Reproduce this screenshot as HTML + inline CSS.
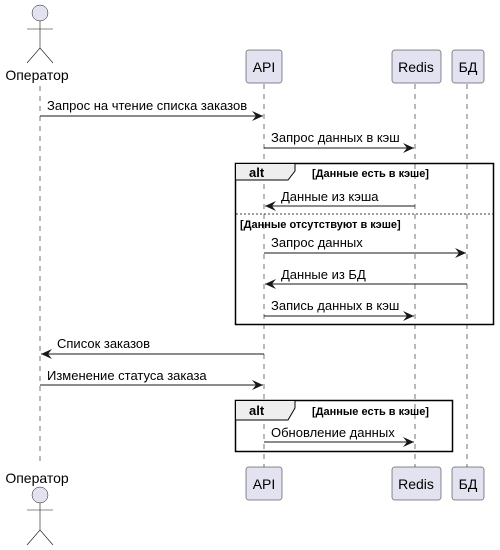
<!DOCTYPE html><html><head><meta charset="utf-8"><style>body{margin:0;background:#fff}svg{display:block}text{font-family:"Liberation Sans",sans-serif}</style></head><body>
<svg width="500" height="550" viewBox="0 0 500 550" xmlns="http://www.w3.org/2000/svg">
<defs><marker id="a" markerWidth="12" markerHeight="10" refX="11" refY="5" orient="auto" markerUnits="userSpaceOnUse"><path d="M0,0 L11,5 L0,10 L4,5 Z" fill="#181818"/></marker></defs>
<g stroke="#181818" stroke-width="0.6" stroke-dasharray="5,5">
<line x1="40" y1="86" x2="40" y2="465"/><line x1="264" y1="84" x2="264" y2="467"/><line x1="415" y1="84" x2="415" y2="467"/><line x1="467" y1="84" x2="467" y2="467"/></g>
<g fill="#E2E2F0" stroke="#181818" stroke-width="0.5">
<circle cx="40" cy="13" r="8"/><circle cx="40" cy="495" r="8"/>
<rect x="246" y="50" width="36" height="33" rx="2.5"/><rect x="392" y="50" width="49" height="33" rx="2.5"/><rect x="452" y="50" width="32" height="33" rx="2.5"/>
<rect x="246" y="467" width="36" height="33" rx="2.5"/><rect x="392" y="467" width="49" height="33" rx="2.5"/><rect x="452" y="467" width="32" height="33" rx="2.5"/></g>
<g stroke="#181818" stroke-width="0.6" fill="none">
<path d="M40,21V48M27,29H53M27,63L40,48L53,63"/><path d="M40,503V530M27,510H53M27,545L40,530L53,545"/></g>
<g font-size="14" fill="#000" text-anchor="middle">
<text x="37" y="80">Оператор</text><text x="37" y="483">Оператор</text>
<text x="264" y="72">API</text><text x="416" y="72">Redis</text><text x="468" y="72">БД</text>
<text x="264" y="489">API</text><text x="416" y="489">Redis</text><text x="468" y="489">БД</text></g>
<g fill="#fff" stroke="#000" stroke-width="1.5"><rect x="235.5" y="163.5" width="258" height="161" fill="none"/><rect x="235.5" y="400.5" width="217" height="51" fill="none"/></g>
<path d="M235.5,163.5H295V171L288,180H235.5Z" fill="#EEEEEE" stroke="#000" stroke-width="1"/>
<path d="M235.5,400.5H295V408L288,420H235.5Z" fill="#EEEEEE" stroke="#000" stroke-width="1"/>
<line x1="236" y1="214" x2="493" y2="214" stroke="#000" stroke-width="0.8" stroke-dasharray="2,2"/>
<g font-size="13" font-weight="bold"><text x="249" y="177">alt</text><text x="249" y="415">alt</text></g>
<g font-size="11" font-weight="bold"><text x="312" y="177">[Данные есть в кэше]</text><text x="240" y="228">[Данные отсутствуют в кэше]</text><text x="312" y="415">[Данные есть в кэше]</text></g>
<g stroke="#181818" stroke-width="1" marker-end="url(#a)">
<line x1="40" y1="116" x2="263" y2="116"/><line x1="264" y1="148" x2="414" y2="148"/>
<line x1="415" y1="206" x2="265" y2="206"/><line x1="264" y1="253" x2="466" y2="253"/>
<line x1="467" y1="284" x2="265" y2="284"/><line x1="264" y1="316" x2="414" y2="316"/>
<line x1="264" y1="354" x2="41" y2="354"/><line x1="40" y1="385" x2="263" y2="385"/>
<line x1="264" y1="442" x2="414" y2="442"/></g>
<g font-size="13" fill="#000">
<text x="47" y="110">Запрос на чтение списка заказов</text><text x="271" y="142">Запрос данных в кэш</text>
<text x="281" y="201">Данные из кэша</text><text x="271" y="247">Запрос данных</text>
<text x="281" y="279">Данные из БД</text><text x="271" y="310">Запись данных в кэш</text>
<text x="57" y="348">Список заказов</text><text x="47" y="380">Изменение статуса заказа</text>
<text x="271" y="437">Обновление данных</text></g>
</svg></body></html>
